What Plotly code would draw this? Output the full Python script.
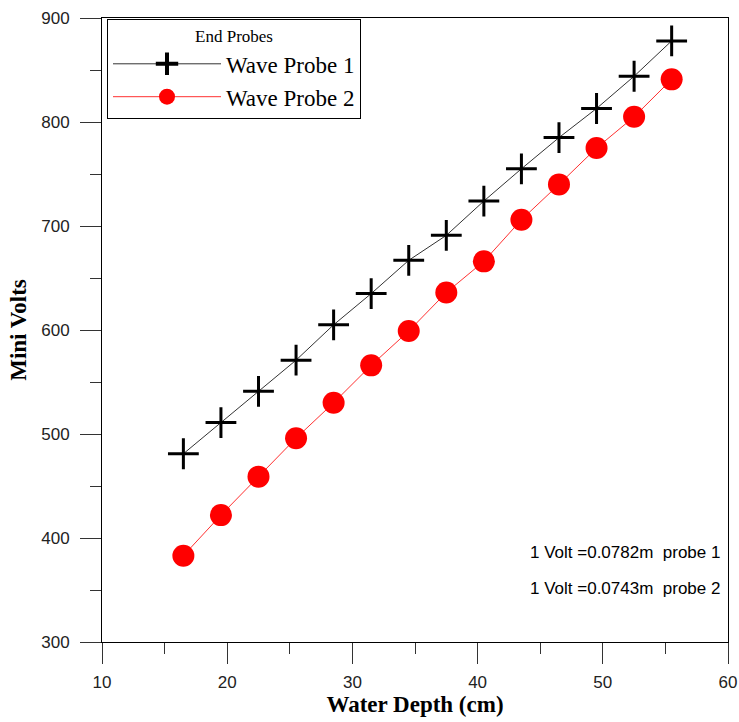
import plotly.graph_objects as go

depth = [16.5, 19.5, 22.5, 25.5, 28.5, 31.5, 34.5, 37.5, 40.5, 43.5, 46.5, 49.5, 52.5, 55.5]
probe1 = [481, 511, 541, 571, 605, 635, 667, 691, 724, 755, 785, 813, 844, 878]
probe2 = [383, 422, 459, 496, 530, 566, 599, 636, 666, 706, 740, 775, 805, 841]
names = ["Wave Probe 1", "Wave Probe 2"]
notes = ["1 Volt =0.0782m\u00a0\u00a0probe 1", "1 Volt =0.0743m\u00a0\u00a0probe 2"]

SERIF = "Liberation Serif, Times New Roman, serif"
SANS = "Liberation Sans, Arial, sans-serif"

line1 = dict(color="#333333", width=1)
line2 = dict(color="#ff3030", width=1)

fig = go.Figure()
fig.add_trace(go.Scatter(
    x=depth, y=probe1, mode="lines+markers", name=names[0], showlegend=False,
    line=line1,
    marker=dict(symbol="cross-thin", size=22, color="black",
                line=dict(color="black", width=3)),
))
fig.add_trace(go.Scatter(
    x=depth, y=probe2, mode="lines+markers", name=names[1], showlegend=False,
    line=line2,
    marker=dict(symbol="circle", size=22, color="#ff0000", line=dict(width=0)),
))
# legend entries (larger glyphs, as in the original legend)
fig.add_trace(go.Scatter(
    x=[None], y=[None], mode="lines+markers", name=names[0],
    line=line1,
    marker=dict(symbol="cross-thin", size=28, color="black",
                line=dict(color="black", width=4)),
))
fig.add_trace(go.Scatter(
    x=[None], y=[None], mode="lines+markers", name=names[1],
    line=line2,
    marker=dict(symbol="circle", size=28, color="#ff0000", line=dict(width=0)),
))

axis_common = dict(
    showline=True, linecolor="black", linewidth=1, mirror=True,
    ticks="outside", ticklen=21, tickwidth=1, tickcolor="#333333",
    showgrid=False, zeroline=False, automargin=False,
    tickfont=dict(family=SANS, size=17, color="#222222"),
)

fig.update_xaxes(
    range=[10, 60], dtick=10, tick0=10, ticklabelstandoff=4,
    minor=dict(dtick=5, ticks="outside", ticklen=11, tickcolor="#333333", showgrid=False),
    title=dict(text="<b>Water Depth (cm)</b>", standoff=4,
               font=dict(family=SERIF, size=23, color="black")),
    **axis_common,
)
fig.update_yaxes(
    range=[300, 900], dtick=100, tick0=300, ticklabelstandoff=7,
    minor=dict(dtick=50, ticks="outside", ticklen=11, tickcolor="#333333", showgrid=False),
    title=dict(text="<b>Mini Volts</b>", standoff=8,
               font=dict(family=SERIF, size=23, color="black")),
    **axis_common,
)

for i, t in enumerate(notes):
    fig.add_annotation(
        x=0.68, y=0.144 - i * 0.059, xref="paper", yref="paper",
        text=t, showarrow=False, xanchor="left", yanchor="middle",
        font=dict(family=SANS, size=17, color="black"),
    )

fig.update_layout(
    width=739, height=722,
    margin=dict(l=102, r=11, t=18, b=80),
    paper_bgcolor="white", plot_bgcolor="white",
    legend=dict(
        x=0.008, y=0.998, xanchor="left", yanchor="top",
        bgcolor="white", bordercolor="black", borderwidth=1,
        font=dict(family=SERIF, size=23, color="black"),
        title=dict(text="End Probes", side="top center",
                   font=dict(family=SERIF, size=17, color="black")),
        itemwidth=108, tracegroupgap=0,
    ),
)

fig.write_html("out.html")
